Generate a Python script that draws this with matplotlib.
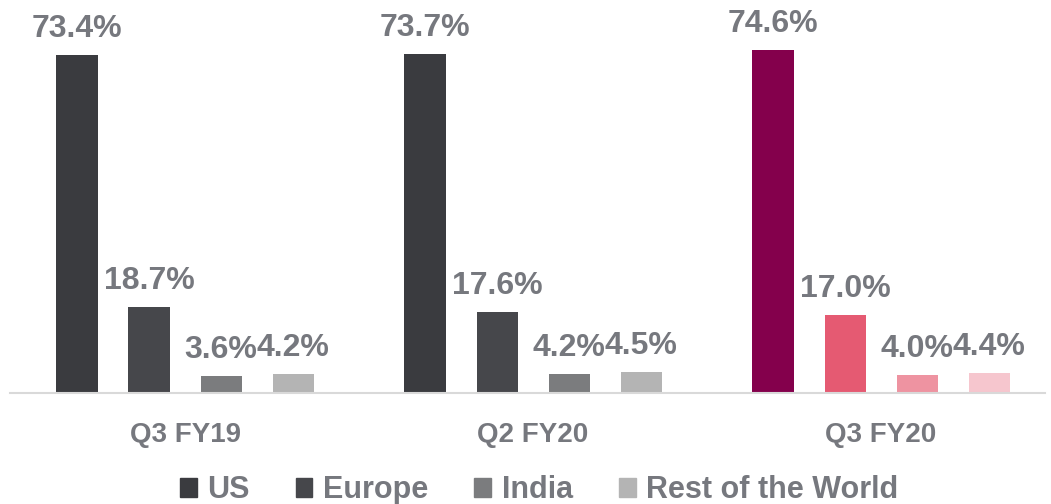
import matplotlib
matplotlib.use("Agg")
import matplotlib.pyplot as plt
from matplotlib.patches import Patch

periods = ["Q3 FY19", "Q2 FY20", "Q3 FY20"]
regions = ["US", "Europe", "India", "Rest of the World"]
us = [73.4, 73.7, 74.6]
europe = [18.7, 17.6, 17.0]
india = [3.6, 4.2, 4.0]
rest = [4.2, 4.5, 4.4]

grey_cols = ["#3a3b3f", "#46474b", "#7b7c7e", "#b4b4b4"]
pink_cols = ["#84004c", "#e55a72", "#ee93a1", "#f6c6ce"]
txt = "#76787e"

plt.rcParams["font.family"] = ["Liberation Sans", "DejaVu Sans"]
plt.rcParams["font.weight"] = "bold"

fig = plt.figure(figsize=(10.51, 5.04), dpi=100)
ax = fig.add_axes([10 / 1051, 111 / 504, 1035 / 1051, 393 / 504])

step, w = 0.207, 0.118
series = [us, europe, india, rest]
for gi, p in enumerate(periods):
    cols = pink_cols if gi == 2 else grey_cols
    for si, vals in enumerate(series):
        x = gi + (si - 1.5) * step
        ax.bar(x, vals[gi], width=w, color=cols[si], zorder=2)
        ax.annotate(f"{vals[gi]:.1f}%", (x, vals[gi]), xytext=(0, 13),
                    textcoords="offset points", ha="center", va="baseline",
                    fontsize=23, fontweight="bold", color=txt)

ax.set_xlim(-0.503, 2.471)
ax.set_ylim(0, 393 / 4.6)
for s in ["top", "right", "left"]:
    ax.spines[s].set_visible(False)
ax.spines["bottom"].set_color("#d9d9d9")
ax.spines["bottom"].set_linewidth(1.5)
ax.set_yticks([])
ax.set_xticks(range(len(periods)))
ax.set_xticklabels(periods, fontsize=20, fontweight="bold", color=txt)
ax.tick_params(axis="x", length=0, pad=21)

handles = [Patch(color=c) for c in grey_cols]
leg = fig.legend(handles, regions, loc="lower center", bbox_to_anchor=(0.513, -0.057),
                 ncol=4, frameon=False, handlelength=0.55, handleheight=0.55,
                 handletextpad=0.35, columnspacing=1.5,
                 prop={"size": 22, "weight": "bold"})
for t in leg.get_texts():
    t.set_color(txt)

fig.savefig("out.png", dpi=100)
